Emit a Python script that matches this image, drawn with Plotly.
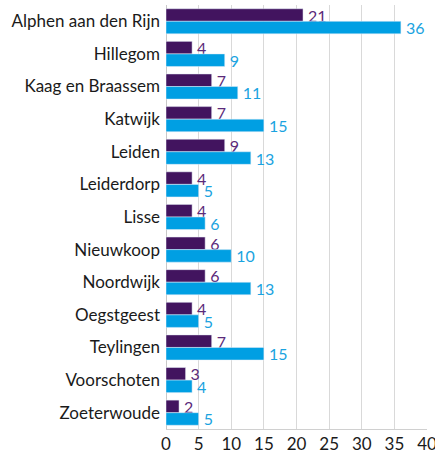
import plotly.graph_objects as go

categories = ["Alphen aan den Rijn", "Hillegom", "Kaag en Braassem", "Katwijk", "Leiden",
              "Leiderdorp", "Lisse", "Nieuwkoop", "Noordwijk", "Oegstgeest", "Teylingen",
              "Voorschoten", "Zoeterwoude"]
series_a = [21, 4, 7, 7, 9, 4, 4, 6, 6, 4, 7, 3, 2]
series_b = [36, 9, 11, 15, 13, 5, 6, 10, 13, 5, 15, 4, 5]
x_ticks = [0, 5, 10, 15, 20, 25, 30, 35, 40]

purple = "#42145f"
blue = "#009fe3"
font = "Lato"

fig = go.Figure()
fig.add_trace(go.Bar(y=categories, x=series_a, orientation="h", marker_color=purple,
                     texttemplate="\u2009%{x}", textposition="outside", cliponaxis=False,
                     constraintext="none",
                     textfont=dict(color="#5b2a7a", size=16, family=font)))
fig.add_trace(go.Bar(y=categories, x=series_b, orientation="h", marker_color=blue,
                     texttemplate="\u2009%{x}", textposition="outside", cliponaxis=False,
                     constraintext="none",
                     textfont=dict(color="#1aa3e0", size=16, family=font)))

fig.update_layout(
    width=435, height=454,
    margin=dict(l=166, r=8, t=5, b=25),
    barmode="group", bargap=0.23, bargroupgap=0,
    plot_bgcolor="white", paper_bgcolor="white",
    showlegend=False,
    font=dict(family=font, color="#1a1a1a", size=17),
    xaxis=dict(range=[0, 40], tickvals=x_ticks, showgrid=True, gridcolor="#d9d9d9",
               gridwidth=1, zeroline=True, zerolinecolor="#c8c8c8", zerolinewidth=1,
               showline=True, linecolor="#d0d0d0", ticks="", tickfont=dict(size=17),
               automargin=False, ticklabeloverflow="allow", ticklabelstandoff=0),
    yaxis=dict(autorange="reversed", showline=False, ticks="", ticklabelstandoff=5,
               tickfont=dict(size=17), automargin=False),
)

fig.write_html("out.html", config={"displayModeBar": False},
               post_script="document.body.style.margin='0';")
